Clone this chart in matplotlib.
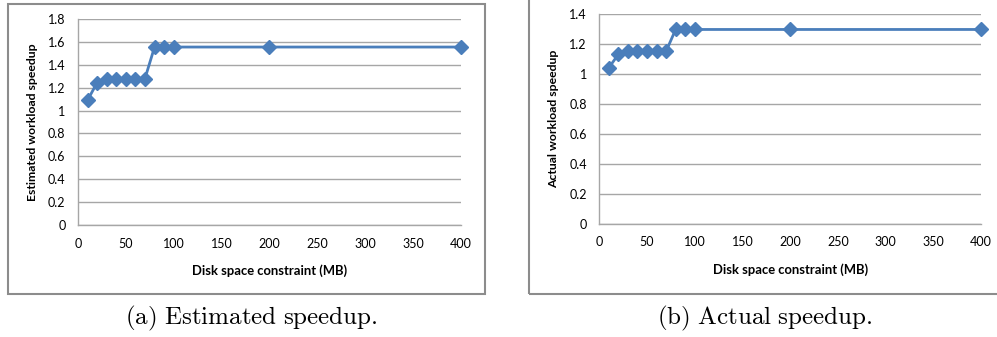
import matplotlib
matplotlib.use('Agg')
import matplotlib.pyplot as plt
from matplotlib.patches import Rectangle

plt.rcParams.update({
    'font.family': ['Lato', 'DejaVu Sans'],
    'mathtext.fontset': 'cm',
})

# --- data ---
disk_mb = [10, 20, 30, 40, 50, 60, 70, 80, 90, 100, 200, 400]
est_speedup = [1.09, 1.245, 1.28, 1.28, 1.28, 1.28, 1.28, 1.555, 1.555, 1.555, 1.555, 1.555]
act_speedup = [1.04, 1.13, 1.155, 1.155, 1.15, 1.15, 1.15, 1.295, 1.295, 1.295, 1.295, 1.295]
x_ticks = [0, 50, 100, 150, 200, 250, 300, 350, 400]
est_yticks = [0, 0.2, 0.4, 0.6, 0.8, 1.0, 1.2, 1.4, 1.6, 1.8]
act_yticks = [0, 0.2, 0.4, 0.6, 0.8, 1.0, 1.2, 1.4]

BLUE = '#4A7EBB'
GRID = '#A6A6A6'
FRAME = '#8C8C8C'

W, H = 997, 337
fig = plt.figure(figsize=(W / 100, H / 100), dpi=100)


def px_box(x0, y0, x1, y1):
    # pixel box (top-left origin) -> figure fraction rect
    return [x0 / W, 1 - y1 / H, (x1 - x0) / W, (y1 - y0) / H]


def fmt(v):
    return '0' if v == 0 else ('1' if v == 1 else f'{v:g}')


def panel(rect, y, yticks, ylabel):
    ax = fig.add_axes(rect)
    ax.plot(disk_mb, y, color=BLUE, lw=2.0, marker='D', ms=7,
            mec=BLUE, mfc=BLUE, zorder=3, clip_on=False)
    ax.set_xlim(0, 400)
    ax.set_ylim(0, yticks[-1])
    ax.set_xticks(x_ticks)
    ax.set_yticks(yticks)
    ax.set_yticklabels([fmt(v) for v in yticks])
    ax.grid(axis='y', color=GRID, lw=1.0)
    ax.set_axisbelow(True)
    for s in ('top', 'right'):
        ax.spines[s].set_visible(False)
    for s in ('left', 'bottom'):
        ax.spines[s].set_color(GRID)
        ax.spines[s].set_linewidth(1.0)
    ax.tick_params(length=0, labelsize=9, colors='#000000', pad=9)
    ax.set_xlabel('Disk space constraint (MB)', fontsize=9.4,
                  fontweight='bold', labelpad=11)
    ax.set_ylabel(ylabel, fontsize=8.8, fontweight='bold', labelpad=7)
    return ax


panel(px_box(78, 19, 460.7, 225), est_speedup, est_yticks,
      'Estimated workload speedup')
panel(px_box(599.3, 13.7, 981, 224), act_speedup, act_yticks,
      'Actual workload speedup')

# panel frames
for x0, y0, x1, y1 in [(8, 4, 484.5, 294.3), (528.7, -5, 1005, 294.3)]:
    fig.patches.append(Rectangle((x0 / W, 1 - y1 / H), (x1 - x0) / W,
                                 (y1 - y0) / H, transform=fig.transFigure,
                                 fill=False, edgecolor=FRAME, lw=1.5))

# captions
fig.text(251 / W, 1 - 318 / H, r'$\mathrm{(a)\ Estimated\ speedup.}$',
         ha='center', va='center', fontsize=18)
fig.text(765 / W, 1 - 318 / H, r'$\mathrm{(b)\ Actual\ speedup.}$',
         ha='center', va='center', fontsize=18)

fig.savefig('out.png', dpi=100)
